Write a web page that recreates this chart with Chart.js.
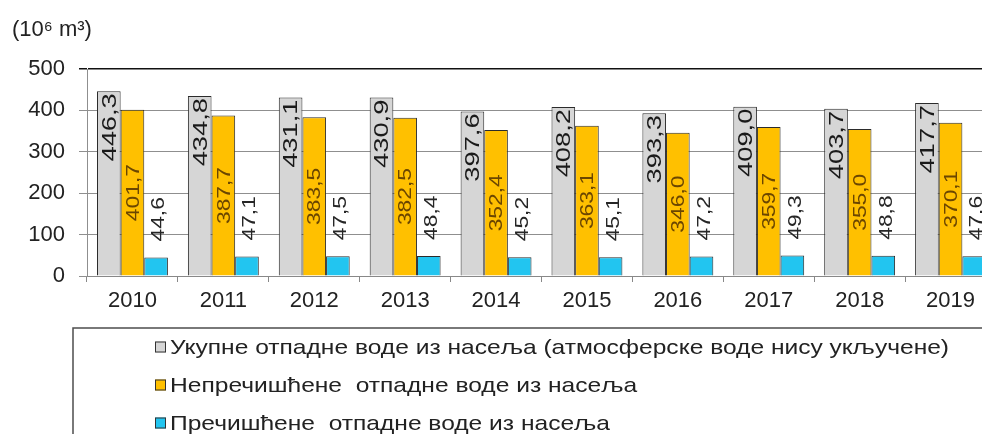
<!DOCTYPE html>
<html>
<head>
<meta charset="utf-8">
<script src="https://cdn.jsdelivr.net/npm/chart.js@4.4.1/dist/chart.umd.min.js"></script>
<style>
  html, body { margin: 0; padding: 0; background: #fff; overflow: hidden; }
  #chartBox { width: 1010px; height: 434px; }
  #wasteChart { display: block; width: 1010px; height: 434px; }
</style>
</head>
<body>
<div id="chartBox"><canvas id="wasteChart" width="1010" height="434"></canvas></div>
<script>
// values (10^6 m3)
const years = ['2010', '2011', '2012', '2013', '2014', '2015', '2016', '2017', '2018', '2019'];
const totalWaste = [446.3, 434.8, 431.1, 430.9, 397.6, 408.2, 393.3, 409.0, 403.7, 417.7];
const untreatedWaste = [401.7, 387.7, 383.5, 382.5, 352.4, 363.1, 346.0, 359.7, 355.0, 370.1];
const treatedWaste = [44.6, 47.1, 47.5, 48.4, 45.2, 45.1, 47.2, 49.3, 48.8, 47.6];
const seriesNames = [
  'Укупне отпадне воде из насеља (атмосферске воде нису укључене)',
  'Непречишћене  отпадне воде из насеља',
  'Пречишћене  отпадне воде из насеља'
];
const yTicks = [0, 100, 200, 300, 400, 500];
const unitLabel = '(10⁶ m³)';

const FONT = '"Liberation Sans", Arial, sans-serif';

// rotated value labels on the bars (no datalabels plugin offline)
const barLabels = {
  id: 'barLabels',
  afterDatasetsDraw(chart) {
    const ctx = chart.ctx;
    chart.data.datasets.forEach((ds, i) => {
      const meta = chart.getDatasetMeta(i);
      const st = ds.labelStyle;
      meta.data.forEach((bar, j) => {
        const text = ds.data[j].toFixed(1).replace('.', ',');
        let y, align;
        if (st.place === 'end') {
          y = bar.y + 2; align = 'right';
        } else if (st.place === 'center') {
          y = (bar.y + bar.base) / 2; align = 'center';
        } else {
          y = bar.y - 16; align = 'left';
        }
        ctx.save();
        ctx.translate(bar.x + st.shift, y);
        ctx.rotate(-Math.PI / 2);
        ctx.scale(st.stretch, 1);
        ctx.font = st.size + 'px ' + FONT;
        ctx.fillStyle = st.color;
        ctx.textAlign = align;
        ctx.textBaseline = 'middle';
        ctx.fillText(text, 0, 1);
        ctx.restore();
      });
    });
  }
};

// framed legend under the axis, one series per row
const boxLegend = {
  id: 'boxLegend',
  afterDraw(chart, args, opts) {
    const ctx = chart.ctx;
    const top = chart.scales.x.bottom + opts.gap;
    ctx.save();
    ctx.strokeStyle = '#4d4d4d';
    ctx.lineWidth = 1.5;
    ctx.strokeRect(opts.left, top, chart.width, chart.height);
    chart.data.datasets.forEach((ds, i) => {
      const cy = top + opts.firstRow + i * opts.rowGap;
      ctx.fillStyle = ds.backgroundColor;
      ctx.fillRect(opts.markerX, cy - 5.5, 11, 11);
      ctx.strokeStyle = '#333';
      ctx.lineWidth = 1;
      ctx.strokeRect(opts.markerX + 0.5, cy - 5, 10, 10);
      ctx.save();
      ctx.translate(opts.markerX + 15, cy + 1);
      ctx.scale(opts.stretch, 1);
      ctx.font = opts.size + 'px ' + opts.family;
      ctx.textAlign = 'left';
      ctx.textBaseline = 'middle';
      ctx.fillStyle = '#222';
      ctx.fillText(ds.label, 0, 0);
      ctx.restore();
    });
    ctx.restore();
  }
};

const ctx = document.getElementById('wasteChart').getContext('2d');
new Chart(ctx, {
  type: 'bar',
  data: {
    labels: years,
    datasets: [
      {
        label: seriesNames[0],
        data: totalWaste,
        backgroundColor: '#d6d6d6',
        borderColor: '#2b2b2b',
        borderWidth: 1,
        labelStyle: { place: 'end', size: 21, stretch: 1.3, color: '#1a1a1a', shift: 0 }
      },
      {
        label: seriesNames[1],
        data: untreatedWaste,
        backgroundColor: '#ffc000',
        borderColor: '#2b2b2b',
        borderWidth: 1,
        labelStyle: { place: 'center', size: 19, stretch: 1.2, color: '#6b4600', shift: 0 }
      },
      {
        label: seriesNames[2],
        data: treatedWaste,
        backgroundColor: '#22c5f0',
        borderColor: '#2b2b2b',
        borderWidth: 1,
        labelStyle: { place: 'outside', size: 19, stretch: 1.2, color: '#262626', shift: 2 }
      }
    ]
  },
  options: {
    responsive: false,
    animation: false,
    devicePixelRatio: 1,
    categoryPercentage: 0.78,
    barPercentage: 1.0,
    layout: {
      padding: { left: 12, right: 14, top: 0, bottom: 118 }
    },
    plugins: {
      legend: { display: false },
      tooltip: { enabled: false },
      title: {
        display: true,
        text: unitLabel,
        align: 'start',
        color: '#222',
        font: { family: FONT, size: 22, weight: 'normal' },
        padding: { top: 17, bottom: 25.6 }
      },
      boxLegend: {
        left: 73,
        gap: 12,
        markerX: 155,
        firstRow: 19,
        rowGap: 38,
        size: 21,
        stretch: 1.17,
        family: FONT
      }
    },
    scales: {
      x: {
        afterFit(scale) { scale.height = 40; },
        grid: {
          offset: true,
          drawOnChartArea: false,
          drawTicks: true,
          tickLength: 6,
          color: '#888'
        },
        border: { display: true, color: '#888', width: 1 },
        ticks: {
          color: '#222',
          padding: 6,
          font: { family: FONT, size: 22 }
        }
      },
      y: {
        min: 0,
        max: 500,
        afterFit(scale) { scale.width = 75; },
        afterBuildTicks(scale) {
          scale.ticks = yTicks.map(v => ({ value: v }));
        },
        grid: {
          color: c => (c.tick && c.tick.value === 500 ? '#111' : '#8f8f8f'),
          lineWidth: c => (c.tick && c.tick.value === 500 ? 1.5 : 1),
          tickLength: 8
        },
        border: { display: true, color: '#8f8f8f', width: 1 },
        ticks: {
          color: '#222',
          padding: 14,
          font: { family: FONT, size: 22 }
        }
      }
    }
  },
  plugins: [barLabels, boxLegend]
});
</script>
</body>
</html>
